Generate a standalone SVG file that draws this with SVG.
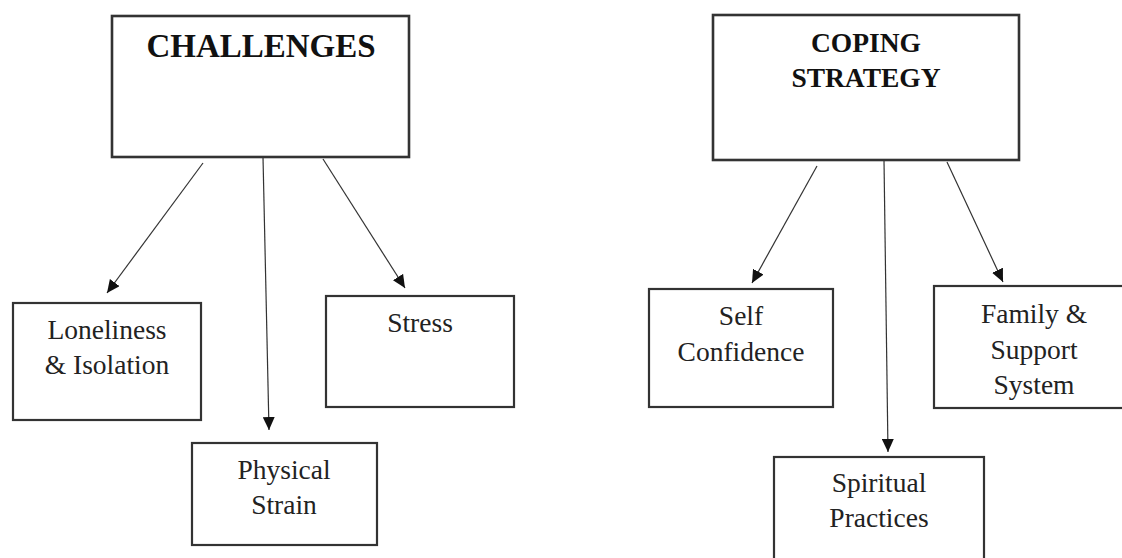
<svg xmlns="http://www.w3.org/2000/svg" width="1122" height="558" viewBox="0 0 1122 558">
<style>
.box{fill:#fff;stroke:#333;stroke-width:2.2}
.head{fill:#fff;stroke:#333;stroke-width:2.6}
.t{font-family:"Liberation Serif","Times New Roman",serif;font-size:27.5px;fill:#222;text-anchor:middle}
.h{font-family:"Liberation Serif","Times New Roman",serif;font-weight:bold;fill:#111;text-anchor:middle}
.c{stroke:#333;stroke-width:1.2;fill:none;marker-end:url(#ah)}
</style>
<defs>
<marker id="ah" markerUnits="userSpaceOnUse" markerWidth="14" markerHeight="12" refX="13" refY="6" orient="auto">
<path d="M0,0 L13,6 L0,12 Z" fill="#111"/>
</marker>
</defs>
<rect width="1122" height="558" fill="#fff"/>
<g id="connectors">
<line class="c" x1="203" y1="163" x2="107" y2="293"/>
<line class="c" x1="263" y1="157" x2="269" y2="430"/>
<line class="c" x1="323" y1="159" x2="405" y2="288"/>
<line class="c" x1="817" y1="166" x2="752" y2="283"/>
<line class="c" x1="884" y1="160" x2="888" y2="452"/>
<line class="c" x1="947" y1="162" x2="1003" y2="282"/>
</g>
<g id="challenges">
<rect class="head" x="112" y="16" width="297" height="141"/>
<text class="h" x="261" y="57" font-size="33">CHALLENGES</text>
</g>
<g id="coping">
<rect class="head" x="713" y="15" width="306" height="145"/>
<text class="h" x="866" y="52" font-size="27.5">COPING</text>
<text class="h" x="866" y="87" font-size="27.5">STRATEGY</text>
</g>
<g id="loneliness">
<rect class="box" x="13" y="303" width="188" height="117"/>
<text class="t" x="107" y="339">Loneliness</text>
<text class="t" x="107" y="374">&amp; Isolation</text>
</g>
<g id="physical">
<rect class="box" x="192" y="443" width="185" height="102"/>
<text class="t" x="284" y="479">Physical</text>
<text class="t" x="284" y="514">Strain</text>
</g>
<g id="stress">
<rect class="box" x="326" y="296" width="188" height="111"/>
<text class="t" x="420" y="332">Stress</text>
</g>
<g id="self">
<rect class="box" x="649" y="289" width="184" height="118"/>
<text class="t" x="741" y="325">Self</text>
<text class="t" x="741" y="361">Confidence</text>
</g>
<g id="spiritual">
<rect class="box" x="774" y="457" width="210" height="110"/>
<text class="t" x="879" y="492">Spiritual</text>
<text class="t" x="879" y="527">Practices</text>
</g>
<g id="family">
<rect class="box" x="934" y="286" width="198" height="122"/>
<text class="t" x="1034" y="323">Family &amp;</text>
<text class="t" x="1034" y="359">Support</text>
<text class="t" x="1034" y="394">System</text>
</g>
</svg>
